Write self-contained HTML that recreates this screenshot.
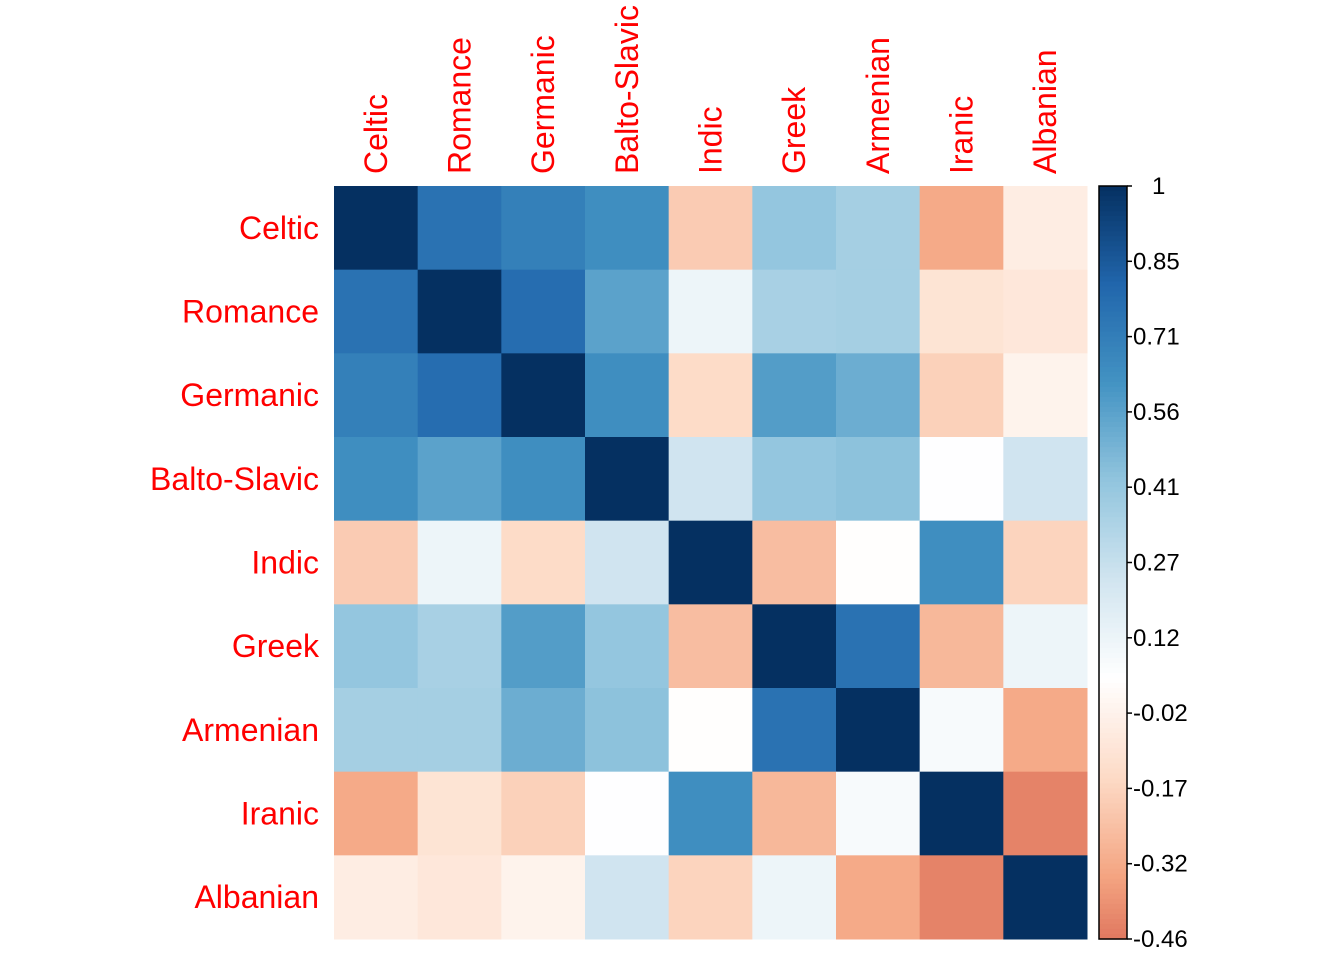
<!DOCTYPE html>
<html><head><meta charset="utf-8"><style>
body{margin:0;background:#fff}
svg{display:block}
text{font-family:"Liberation Sans",Arial,sans-serif}
</style></head><body>
<svg id="chart" width="1344" height="960" xmlns="http://www.w3.org/2000/svg"></svg>
<script>
const categories=["Celtic","Romance","Germanic","Balto-Slavic","Indic","Greek","Armenian","Iranic","Albanian"];
const row0=[1,0.76,0.7,0.64,-0.2,0.42,0.37,-0.32,-0.05];
const row1=[0.76,1,0.78,0.56,0.12,0.36,0.37,-0.1,-0.08];
const row2=[0.7,0.78,1,0.64,-0.14,0.58,0.52,-0.18,-0.02];
const row3=[0.64,0.56,0.64,1,0.24,0.42,0.44,0.05,0.24];
const row4=[-0.2,0.12,-0.14,0.24,1,-0.25,0.04,0.64,-0.17];
const row5=[0.42,0.36,0.58,0.42,-0.25,1,0.76,-0.27,0.12];
const row6=[0.37,0.37,0.52,0.44,0.04,0.76,1,0.08,-0.32];
const row7=[-0.32,-0.1,-0.18,0.05,0.64,-0.27,0.08,1,-0.43];
const row8=[-0.05,-0.08,-0.02,0.24,-0.17,0.12,-0.32,-0.43,1];
const tickLabels=["1","0.85","0.71","0.56","0.41","0.27","0.12","-0.02","-0.17","-0.32","-0.46"];
const vmin=-0.46, vmax=1;
const rows=[row0,row1,row2,row3,row4,row5,row6,row7,row8];
const pal=["#67001F","#B2182B","#D6604D","#F4A582","#FDDBC7","#FFFFFF","#D1E5F0","#92C5DE","#4393C3","#2166AC","#053061"];
function hex(c){return [1,3,5].map(i=>parseInt(c.substr(i,2),16));}
function color(v){let t=2.35+(v-vmin)/(vmax-vmin)*(10-2.35);let i=Math.min(pal.length-2,Math.max(0,Math.floor(t)));let f=t-i;
const a=hex(pal[i]),b=hex(pal[i+1]);return "rgb("+a.map((x,k)=>Math.round(x+(b[k]-x)*f)).join(",")+")";}
const NS="http://www.w3.org/2000/svg";const svg=document.getElementById("chart");
function mk(t,at){const e=document.createElementNS(NS,t);for(const k in at)e.setAttribute(k,at[k]);svg.appendChild(e);return e;}
const X0=334,Y0=186,W=753,H=753,n=categories.length,cw=W/n,ch=H/n;
const xs=i=>X0+i*cw, ys=j=>Y0+j*ch;
rows.forEach((r,j)=>r.forEach((v,i)=>{
 const e=mk("rect",{x:xs(i),y:ys(j),width:cw+0.5,height:ch+0.5,fill:color(v)});
 
 
}));
categories.forEach((c,j)=>{
 const t=mk("text",{x:319,y:ys(j)+ch/2+11,"text-anchor":"end","font-size":32,fill:"#ff0000"});t.textContent=c;
 
 
 const cx=xs(j)+cw/2+11;
 const u=mk("text",{x:cx,y:174,"text-anchor":"start","font-size":32,fill:"#ff0000",transform:"rotate(-90 "+cx+" 174)"});u.textContent=c;
 
 
});
const bx=1099,bw=28,steps=150;
for(let s=0;s<steps;s++){const v=vmax-(vmax-vmin)*(s+0.5)/steps;
 const e=mk("rect",{x:bx,y:Y0+H*s/steps,width:bw,height:H/steps+0.6,fill:color(v)});
 
 }
const bd=mk("rect",{x:bx,y:Y0,width:bw,height:H,fill:"none",stroke:"#000","stroke-width":1.5});


tickLabels.forEach((l,k)=>{const y=Y0+H*k/(tickLabels.length-1);
 const tk=mk("line",{x1:bx+bw,x2:bx+bw+5,y1:y,y2:y,stroke:"#000","stroke-width":1.5});
 
 
 const t=mk("text",{x:l==="1"?1152:1133,y:y+8,"font-size":24,fill:"#000"});t.textContent=l;
 
 });
</script>
</body></html>
